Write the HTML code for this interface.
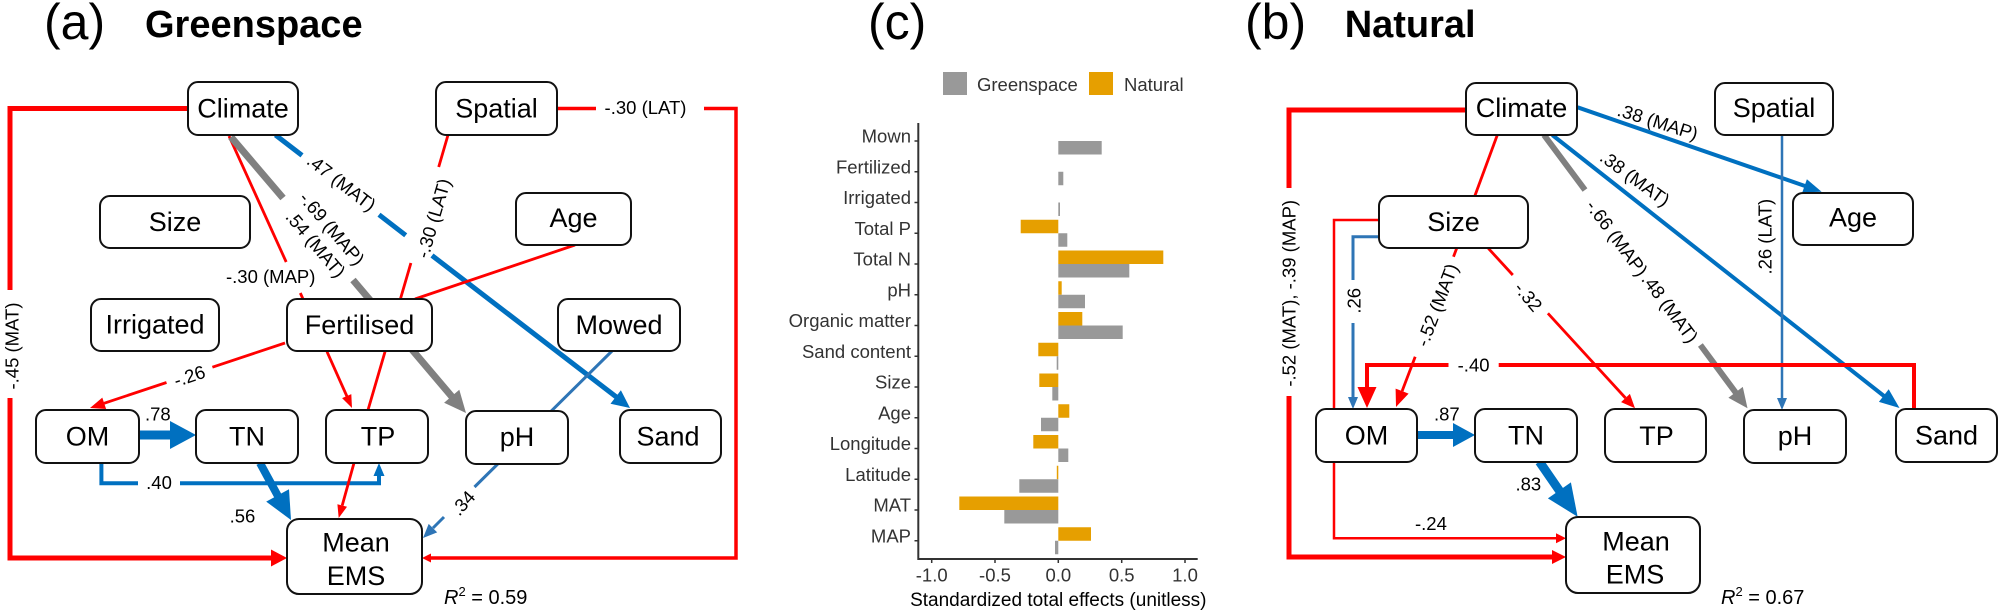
<!DOCTYPE html>
<html>
<head>
<meta charset="utf-8">
<style>
html,body{margin:0;padding:0;background:#fff;}
svg{display:block;}
.box{fill:#fff;stroke:#111;stroke-width:2;}
.bt{font-size:27px;text-anchor:middle;fill:#000;}
.lb{font-size:18.5px;fill:#000;}
.lm{font-size:18.5px;fill:#000;text-anchor:middle;}
.ax{font-size:18.5px;fill:#333;}
path{fill:none;}
</style>
</head>
<body>
<svg width="2000" height="613" viewBox="0 0 2000 613" xmlns="http://www.w3.org/2000/svg" font-family="'Liberation Sans', Arial, sans-serif">
<rect x="0" y="0" width="2000" height="613" fill="#fff"/>

<!-- ================= PANEL (a) ================= -->
<text x="44" y="39" font-size="50">(a)</text>
<text x="145" y="37" font-size="38" font-weight="bold">Greenspace</text>

<!-- lines -->
<path d="M188,108.5 H10 V290 M10,398 V558 H273" stroke="#ff0000" stroke-width="5"/>
<polygon points="287,558 271,549.5 271,566.5" fill="#ff0000"/>
<path d="M557,108.5 H596 M704,108.5 H736 V558 H430" stroke="#ff0000" stroke-width="3.5"/>
<polygon points="422,558 431,553.5 431,562.5" fill="#ff0000"/>
<path d="M229,136 L286.2,262 M300.3,293 L303,299" stroke="#ff0000" stroke-width="2.8"/>
<path d="M231,137 L283,198 M353,280 L453,398" stroke="#808080" stroke-width="7"/>
<polygon points="466,413 444.1,402.8 459.3,389.8" fill="#808080"/>
<path d="M275.5,135 L302,155.4 M379,214.7 L405.7,235.3 M432,255.5 L617,397.5" stroke="#0070c0" stroke-width="5"/>
<polygon points="630,408 610.5,403.7 620.9,390.3" fill="#0070c0"/>
<path d="M448,135 L438.7,167 M410.9,263 L368,410" stroke="#ff0000" stroke-width="2.8"/>
<path d="M575,245 L415,299" stroke="#ff0000" stroke-width="2.8"/>
<path d="M285,343 L212.4,367.2 M166.5,382.5 L104,403.3" stroke="#ff0000" stroke-width="2.8"/>
<polygon points="90,408 102.3,397.6 106.1,409" fill="#ff0000"/>
<path d="M327,351.7 L347,396.5" stroke="#ff0000" stroke-width="2.8"/>
<polygon points="352,408 342.1,398.1 351.3,394.1" fill="#ff0000"/>
<path d="M612,351 L474.5,487 M444,517 L433,528" stroke="#2e75b6" stroke-width="3"/>
<polygon points="423,538 428.7,523.9 437.2,532.4" fill="#2e75b6"/>
<path d="M139,435 H172" stroke="#0070c0" stroke-width="9"/>
<polygon points="196,435 170,421 170,449" fill="#0070c0"/>
<path d="M101.4,463 V483.3 H138 M180,483.3 H379 V475" stroke="#0070c0" stroke-width="4"/>
<polygon points="379,463 373.5,476 384.5,476" fill="#0070c0"/>
<path d="M260,463 L279,498" stroke="#0070c0" stroke-width="8"/>
<polygon points="291,520 266.2,501.6 289,489.2" fill="#0070c0"/>
<path d="M354,463 L342.2,505.5" stroke="#ff0000" stroke-width="2.8"/>
<polygon points="338.7,518 337.4,504.2 347,506.8" fill="#ff0000"/>

<!-- boxes -->
<rect class="box" x="188" y="82" width="110" height="53" rx="10"/>
<text class="bt" x="243" y="117.5">Climate</text>
<rect class="box" x="436" y="82" width="121" height="53" rx="10"/>
<text class="bt" x="496.5" y="117.5">Spatial</text>
<rect class="box" x="100" y="196" width="150" height="52" rx="10"/>
<text class="bt" x="175" y="231">Size</text>
<rect class="box" x="516" y="193" width="115" height="52" rx="10"/>
<text class="bt" x="573.5" y="227">Age</text>
<rect class="box" x="91" y="299" width="128" height="52" rx="10"/>
<text class="bt" x="155" y="333.5">Irrigated</text>
<rect class="box" x="287" y="299" width="145" height="52" rx="10"/>
<text class="bt" x="359.5" y="334">Fertilised</text>
<rect class="box" x="558" y="299" width="122" height="52" rx="10"/>
<text class="bt" x="619" y="334">Mowed</text>
<rect class="box" x="36" y="410" width="103" height="53" rx="10"/>
<text class="bt" x="87.5" y="445.5">OM</text>
<rect class="box" x="196" y="410" width="102" height="53" rx="10"/>
<text class="bt" x="247" y="445.5">TN</text>
<rect class="box" x="326" y="410" width="102" height="53" rx="10"/>
<text class="bt" x="378" y="445.5">TP</text>
<rect class="box" x="466" y="411" width="102" height="53" rx="10"/>
<text class="bt" x="517" y="446">pH</text>
<rect class="box" x="620" y="410" width="101" height="53" rx="10"/>
<text class="bt" x="668" y="445.5">Sand</text>
<rect class="box" x="287" y="519" width="135" height="75" rx="12"/>
<text class="bt" x="356" y="551.5">Mean</text>
<text class="bt" x="356" y="585">EMS</text>

<!-- labels -->
<text class="lm" transform="translate(12,346) rotate(-90)" dy="0.35em">-.45 (MAT)</text>
<text class="lm" x="645.5" y="114">-.30 (LAT)</text>
<text class="lm" transform="translate(341.5,182.5) rotate(37.5)" dy="0.35em">.47 (MAT)</text>
<text class="lm" transform="translate(332,228.5) rotate(49.6)" dy="0.35em">-.69 (MAP)</text>
<text class="lm" transform="translate(315.7,244) rotate(49.6)" dy="0.35em">.54 (MAT)</text>
<text class="lm" transform="translate(433.3,218.3) rotate(-73.8)" dy="0.35em">-.30 (LAT)</text>
<text class="lb" x="226" y="283">-.30 (MAP)</text>
<text class="lm" transform="translate(189.5,376) rotate(-18.4)" dy="0.35em">-.26</text>
<text class="lb" x="145" y="420.5">.78</text>
<text class="lm" x="159" y="489">.40</text>
<text class="lb" x="229.6" y="522.7">.56</text>
<text class="lm" transform="translate(463,503) rotate(-48)" dy="0.35em">.34</text>
<text x="444" y="604" font-size="20"><tspan font-style="italic">R</tspan><tspan font-size="13" dy="-8">2</tspan><tspan dy="8"> = 0.59</tspan></text>

<!-- ================= PANEL (c) ================= -->
<text x="868" y="39" font-size="50">(c)</text>
<rect x="943" y="72" width="24" height="23" fill="#999999"/>
<text class="ax" x="977" y="91" fill="#222">Greenspace</text>
<rect x="1089" y="72" width="24" height="23" fill="#e69f00"/>
<text class="ax" x="1124" y="91" fill="#222">Natural</text>

<!-- bars -->
<g>
<rect x="1058.3" y="141" width="43.4" height="13.5" fill="#999999"/>
<rect x="1058.3" y="171.75" width="5" height="13.5" fill="#999999"/>
<rect x="1058.3" y="202.5" width="1.7" height="13.5" fill="#999999"/>
<rect x="1020.7" y="219.75" width="37.6" height="13.5" fill="#e69f00"/>
<rect x="1058.3" y="233.25" width="9" height="13.5" fill="#999999"/>
<rect x="1058.3" y="250.5" width="105" height="13.5" fill="#e69f00"/>
<rect x="1058.3" y="264" width="71" height="13.5" fill="#999999"/>
<rect x="1058.3" y="281.25" width="3.4" height="13.5" fill="#e69f00"/>
<rect x="1058.3" y="294.75" width="26.7" height="13.5" fill="#999999"/>
<rect x="1058.3" y="312" width="24" height="13.5" fill="#e69f00"/>
<rect x="1058.3" y="325.5" width="64.4" height="13.5" fill="#999999"/>
<rect x="1038.3" y="342.75" width="20" height="13.5" fill="#e69f00"/>
<rect x="1056.7" y="356.25" width="1.6" height="13.5" fill="#999999"/>
<rect x="1039.3" y="373.5" width="19" height="13.5" fill="#e69f00"/>
<rect x="1052.3" y="387" width="6" height="13.5" fill="#999999"/>
<rect x="1058.3" y="404.25" width="11" height="13.5" fill="#e69f00"/>
<rect x="1041" y="417.75" width="17.3" height="13.5" fill="#999999"/>
<rect x="1033.3" y="435" width="25" height="13.5" fill="#e69f00"/>
<rect x="1058.3" y="448.5" width="10" height="13.5" fill="#999999"/>
<rect x="1056.8" y="465.75" width="1.5" height="13.5" fill="#e69f00"/>
<rect x="1019.3" y="479.25" width="39" height="13.5" fill="#999999"/>
<rect x="959.3" y="496.5" width="99" height="13.5" fill="#e69f00"/>
<rect x="1004.3" y="510" width="54" height="13.5" fill="#999999"/>
<rect x="1058.3" y="527.25" width="32.7" height="13.5" fill="#e69f00"/>
<rect x="1055" y="540.75" width="3.3" height="13.5" fill="#999999"/>
</g>

<!-- axes -->
<path d="M918.3,123 V559 H1197.7" stroke="#333" stroke-width="2"/>
<g stroke="#333" stroke-width="1.5">
<path d="M914.5,141 H918.3 M914.5,171.75 H918.3 M914.5,202.5 H918.3 M914.5,233.25 H918.3 M914.5,264 H918.3 M914.5,294.75 H918.3 M914.5,325.5 H918.3 M914.5,356.25 H918.3 M914.5,387 H918.3 M914.5,417.75 H918.3 M914.5,448.5 H918.3 M914.5,479.25 H918.3 M914.5,510 H918.3 M914.5,540.75 H918.3"/>
<path d="M931.7,559 V563 M995,559 V563 M1058.3,559 V563 M1121.7,559 V563 M1185,559 V563"/>
</g>
<g class="ax" text-anchor="end">
<text x="911" y="142.7">Mown</text>
<text x="911" y="173.45">Fertilized</text>
<text x="911" y="204.2">Irrigated</text>
<text x="911" y="234.95">Total P</text>
<text x="911" y="265.7">Total N</text>
<text x="911" y="296.45">pH</text>
<text x="911" y="327.2">Organic matter</text>
<text x="911" y="357.95">Sand content</text>
<text x="911" y="388.7">Size</text>
<text x="911" y="419.45">Age</text>
<text x="911" y="450.2">Longitude</text>
<text x="911" y="480.95">Latitude</text>
<text x="911" y="511.7">MAT</text>
<text x="911" y="542.45">MAP</text>
</g>
<g class="ax" text-anchor="middle">
<text x="931.7" y="581.5">-1.0</text>
<text x="995" y="581.5">-0.5</text>
<text x="1058.3" y="581.5">0.0</text>
<text x="1121.7" y="581.5">0.5</text>
<text x="1185" y="581.5">1.0</text>
</g>
<text x="1058.3" y="606" font-size="19" text-anchor="middle" fill="#000">Standardized total effects (unitless)</text>

<!-- ================= PANEL (b) ================= -->
<text x="1245" y="39" font-size="50">(b)</text>
<text x="1344.7" y="37" font-size="38" font-weight="bold">Natural</text>

<!-- lines -->
<path d="M1466,110 H1289 V188 M1289,396 V557 H1553" stroke="#ff0000" stroke-width="5"/>
<polygon points="1566,557 1552,550 1552,564" fill="#ff0000"/>
<path d="M1379,220 H1334 V538.3 H1556" stroke="#ff0000" stroke-width="2.5"/>
<polygon points="1566,538.3 1556,533.3 1556,543.3" fill="#ff0000"/>
<path d="M1379,236.7 H1353 V280 M1353,323 V398" stroke="#2e75b6" stroke-width="3"/>
<polygon points="1353,409 1348,397 1358,397" fill="#2e75b6"/>
<path d="M1497.3,135 L1474.8,196" stroke="#ff0000" stroke-width="2.8"/>
<path d="M1456.7,248.3 L1453.5,256.7 M1415.2,356.7 L1402.1,391.1" stroke="#ff0000" stroke-width="2.8"/>
<polygon points="1396,407 1395.6,388.6 1408.6,393.6" fill="#ff0000"/>
<path d="M1488.3,248.3 L1512.8,275 M1547.9,313.3 L1625.5,398" stroke="#ff0000" stroke-width="2.8"/>
<polygon points="1635,408.3 1621.1,402.1 1629.9,393.9" fill="#ff0000"/>
<path d="M1544,135 L1585,190 M1700.4,345 L1736,393" stroke="#808080" stroke-width="6"/>
<polygon points="1747.5,408.3 1728.4,397.7 1742.8,386.9" fill="#808080"/>
<path d="M1552.3,135 L1884,396" stroke="#0070c0" stroke-width="4"/>
<polygon points="1899.5,408 1878.9,401.9 1888.7,389.3" fill="#0070c0"/>
<path d="M1577.6,107.3 L1805,186" stroke="#0070c0" stroke-width="4"/>
<polygon points="1821.6,191.7 1802.3,192.4 1806.9,179.2" fill="#0070c0"/>
<path d="M1782,135 V398" stroke="#2e75b6" stroke-width="2.5"/>
<polygon points="1782,410 1777,398 1787,398" fill="#2e75b6"/>
<path d="M1914,409 V365 H1498.7 M1448.5,365 H1367 V388" stroke="#ff0000" stroke-width="4"/>
<polygon points="1367,408 1357.5,387 1376.5,387" fill="#ff0000"/>
<path d="M1417,435 H1455" stroke="#0070c0" stroke-width="8"/>
<polygon points="1475,435 1453,423 1453,447" fill="#0070c0"/>
<path d="M1539.4,461.7 L1561,493" stroke="#0070c0" stroke-width="9"/>
<polygon points="1577.6,516.7 1547.9,498.4 1570.9,482.4" fill="#0070c0"/>

<!-- boxes -->
<rect class="box" x="1466" y="83" width="111" height="52" rx="10"/>
<text class="bt" x="1521.5" y="117">Climate</text>
<rect class="box" x="1715" y="83" width="118" height="52" rx="10"/>
<text class="bt" x="1774" y="117">Spatial</text>
<rect class="box" x="1379" y="196" width="149" height="52" rx="10"/>
<text class="bt" x="1453.5" y="231">Size</text>
<rect class="box" x="1793" y="193" width="120" height="52" rx="10"/>
<text class="bt" x="1853" y="226.7">Age</text>
<rect class="box" x="1316" y="409" width="101" height="53" rx="10"/>
<text class="bt" x="1366.5" y="444.5">OM</text>
<rect class="box" x="1475" y="409" width="102" height="53" rx="10"/>
<text class="bt" x="1526" y="444.5">TN</text>
<rect class="box" x="1605" y="409" width="101" height="53" rx="10"/>
<text class="bt" x="1656.5" y="445">TP</text>
<rect class="box" x="1744" y="410" width="102" height="53" rx="10"/>
<text class="bt" x="1795" y="445">pH</text>
<rect class="box" x="1896" y="409" width="101" height="53" rx="10"/>
<text class="bt" x="1946.5" y="444.5">Sand</text>
<rect class="box" x="1566" y="517" width="134" height="76" rx="12"/>
<text class="bt" x="1636" y="550.7">Mean</text>
<text class="bt" x="1635" y="583.3">EMS</text>

<!-- labels -->
<text class="lm" transform="translate(1289,293.3) rotate(-90)" dy="0.35em">-.52 (MAT), -.39 (MAP)</text>
<text class="lm" transform="translate(1657.8,121.7) rotate(17.5)" dy="0.35em">.38 (MAP)</text>
<text class="lm" transform="translate(1635,178.3) rotate(36)" dy="0.35em">.38 (MAT)</text>
<text class="lm" transform="translate(1765,236.7) rotate(-90)" dy="0.35em">.26 (LAT)</text>
<text class="lm" transform="translate(1617,238) rotate(53.3)" dy="0.35em">-.66 (MAP)</text>
<text class="lm" transform="translate(1670,308) rotate(53.3)" dy="0.35em">.48 (MAT)</text>
<text class="lm" transform="translate(1528.3,296.7) rotate(50)" dy="0.35em">-.32</text>
<text class="lm" transform="translate(1437,305) rotate(-69)" dy="0.35em">-.52 (MAT)</text>
<text class="lm" transform="translate(1354,300.8) rotate(-90)" dy="0.35em">.26</text>
<text class="lm" x="1473.6" y="371.7">-.40</text>
<text class="lb" x="1434" y="420.5">.87</text>
<text class="lb" x="1515.5" y="490.7">.83</text>
<text class="lb" x="1415" y="530">-.24</text>
<text x="1721" y="604" font-size="20"><tspan font-style="italic">R</tspan><tspan font-size="13" dy="-8">2</tspan><tspan dy="8"> = 0.67</tspan></text>
</svg>
</body>
</html>
